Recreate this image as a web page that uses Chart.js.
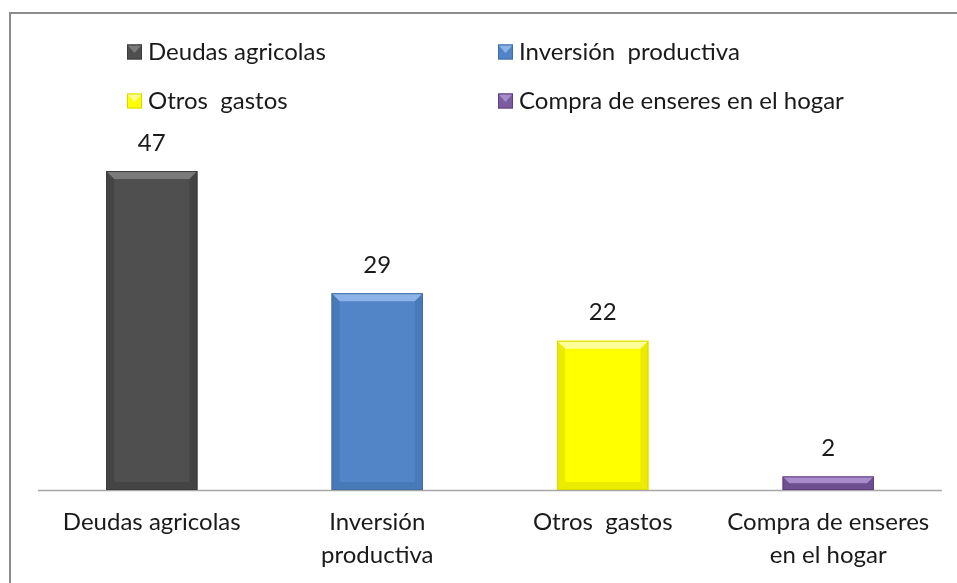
<!DOCTYPE html>
<html>
<head>
<meta charset="utf-8">
<script src="https://cdn.jsdelivr.net/npm/chart.js@4.4.1/dist/chart.umd.min.js"></script>
<style>
  html, body { margin: 0; padding: 0; background: #fff; }
  #wrap { width: 957px; height: 583px; position: relative; }
</style>
</head>
<body>
<div id="wrap"><canvas id="c" width="957" height="583"></canvas></div>
<script>
const categories = ['Deudas agricolas', 'Inversión  productiva', 'Otros  gastos', 'Compra de enseres en el hogar'];
const tickLabels = [['Deudas agricolas'], ['Inversión', 'productiva'], ['Otros  gastos'], ['Compra de enseres', 'en el hogar']];
const values = [47, 29, 22, 2];
const barColors = ['#4f4f4f', '#5285c8', '#ffff00', '#7d5ba0'];
const barDark = ['#3a3a3a', '#3d6ea8', '#d8d800', '#5e417e'];
const barLight = ['#7a7a7a', '#8cb4e8', '#ffff99', '#a98ccc'];

const FONT = 'Lato, "Open Sans", sans-serif';
const FS = 24;

const framePlugin = {
  id: 'frame',
  beforeDraw(chart) {
    const ctx = chart.ctx;
    ctx.save();
    ctx.fillStyle = '#fff';
    ctx.fillRect(0, 0, chart.width, chart.height);
    ctx.strokeStyle = '#8c8c8c';
    ctx.lineWidth = 2;
    ctx.strokeRect(10, 13, 1200, 1200);
    ctx.restore();
  }
};

const axisLinePlugin = {
  id: 'axisLine',
  afterDatasetsDraw(chart) {
    const ctx = chart.ctx;
    const a = chart.chartArea;
    const y = chart.scales.y.getPixelForValue(0);
    ctx.save();
    ctx.strokeStyle = '#a6a6a6';
    ctx.lineWidth = 1.5;
    ctx.beginPath();
    ctx.moveTo(a.left - 1, y + 0.5);
    ctx.lineTo(a.right + 1, y + 0.5);
    ctx.stroke();
    ctx.restore();
  }
};

const bevelPlugin = {
  id: 'bevel',
  afterDatasetsDraw(chart) {
    const ctx = chart.ctx;
    const meta = chart.getDatasetMeta(0);
    ctx.save();
    meta.data.forEach((bar, i) => {
      const l = bar.x - bar.width / 2, r = bar.x + bar.width / 2;
      const t = bar.y, b = bar.base;
      const h = b - t;
      const d = Math.min(8, h / 2);
      ctx.fillStyle = barLight[i];
      ctx.beginPath();
      ctx.moveTo(l, t); ctx.lineTo(r, t); ctx.lineTo(r - d, t + d); ctx.lineTo(l + d, t + d); ctx.closePath();
      ctx.fill();
      ctx.fillStyle = barDark[i];
      ctx.globalAlpha = 0.5;
      ctx.beginPath();
      ctx.moveTo(l, t); ctx.lineTo(l + d, t + d); ctx.lineTo(l + d, b - d); ctx.lineTo(l, b); ctx.closePath();
      ctx.fill();
      ctx.beginPath();
      ctx.moveTo(r, t); ctx.lineTo(r - d, t + d); ctx.lineTo(r - d, b - d); ctx.lineTo(r, b); ctx.closePath();
      ctx.fill();
      ctx.beginPath();
      ctx.moveTo(l, b); ctx.lineTo(l + d, b - d); ctx.lineTo(r - d, b - d); ctx.lineTo(r, b); ctx.closePath();
      ctx.fill();
      ctx.globalAlpha = 1;
      ctx.strokeStyle = barDark[i];
      ctx.lineWidth = 1;
      ctx.strokeRect(l + 0.5, t + 0.5, bar.width - 1, h - 1);
    });
    ctx.restore();
  }
};

const valueLabelPlugin = {
  id: 'valueLabels',
  afterDatasetsDraw(chart) {
    const ctx = chart.ctx;
    const meta = chart.getDatasetMeta(0);
    ctx.save();
    ctx.font = FS + 'px ' + FONT;
    ctx.fillStyle = '#1a1a1a';
    ctx.textAlign = 'center';
    ctx.textBaseline = 'middle';
    meta.data.forEach((bar, i) => {
      ctx.fillText(String(chart.data.datasets[0].data[i]), bar.x, bar.y - 28);
    });
    ctx.restore();
  }
};

const legendPlugin = {
  id: 'gridLegend',
  afterDraw(chart) {
    const ctx = chart.ctx;
    const cols = [127, 498];
    const rows = [52, 101];
    ctx.save();
    ctx.font = FS + 'px ' + FONT;
    ctx.textBaseline = 'middle';
    ctx.textAlign = 'left';
    chart.data.labels.forEach((lab, i) => {
      const x = cols[i % 2], y = rows[Math.floor(i / 2)];
      const s = 15;
      ctx.fillStyle = barColors[i];
      ctx.fillRect(x, y - s / 2, s, s);
      ctx.fillStyle = barLight[i];
      ctx.beginPath();
      ctx.moveTo(x, y - s / 2); ctx.lineTo(x + s, y - s / 2); ctx.lineTo(x + s / 2, y + 1); ctx.closePath();
      ctx.fill();
      ctx.strokeStyle = barDark[i];
      ctx.lineWidth = 1;
      ctx.strokeRect(x + 0.5, y - s / 2 + 0.5, s - 1, s - 1);
      ctx.fillStyle = '#1a1a1a';
      ctx.fillText(lab, x + 21, y);
    });
    ctx.restore();
  }
};

new Chart(document.getElementById('c'), {
  type: 'bar',
  data: {
    labels: categories,
    datasets: [{
      data: values,
      backgroundColor: barColors,
      borderWidth: 0,
      categoryPercentage: 1.0,
      barPercentage: 0.405
    }]
  },
  options: {
    responsive: false,
    animation: false,
    devicePixelRatio: 1,
    layout: { padding: { left: 39, right: 16, top: 15, bottom: 0 } },
    plugins: { legend: { display: false }, tooltip: { enabled: false } },
    scales: {
      y: { display: false, min: 0, max: 70 },
      x: {
        grid: { display: false, drawTicks: false },
        border: { display: false },
        ticks: {
          color: '#1a1a1a',
          font: { family: FONT, size: FS, lineHeight: 1.375 },
          padding: 16,
          maxRotation: 0,
          autoSkip: false,
          callback: (v, i) => tickLabels[i]
        },
        afterFit(scale) { scale.height = 93; }
      }
    }
  },
  plugins: [framePlugin, axisLinePlugin, bevelPlugin, valueLabelPlugin, legendPlugin]
});
</script>
</body>
</html>
